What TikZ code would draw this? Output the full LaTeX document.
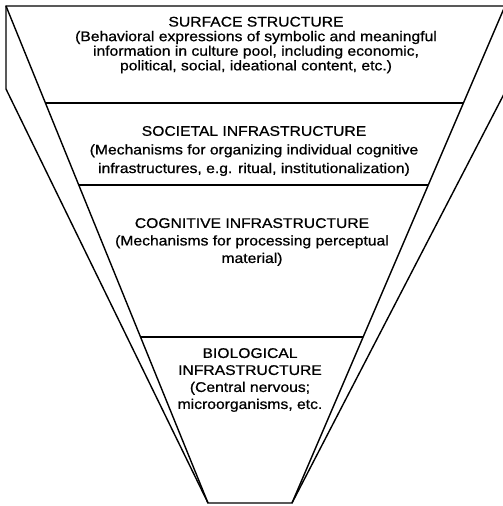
\documentclass[tikz,border=0pt]{standalone}
\usepackage{fontspec}
\setmainfont{Liberation Sans}[FakeStretch=1.12,FakeBold=0.8]
\usetikzlibrary{calc}

\tikzset{
  edge/.style={line width=1.4pt},
  layer/.style={align=center, inner sep=0pt, font=\fontsize{14}{#1}\selectfont},
  layer/.default=18
}

\begin{document}
\begin{tikzpicture}[x=1pt,y=-1pt]
\useasboundingbox (0,0) rectangle (503,506) ;

\coordinate (ftl) at (6,6) ;
\coordinate (ftr) at (505,6) ;
\coordinate (fbl) at (208,503) ;
\coordinate (fbr) at (292,503) ;
\coordinate (sl) at (6,89) ;
\coordinate (sr) at (504,94) ;

\draw [edge] (sl) -- (ftl) -- (ftr) -- (fbr) -- (fbl) -- cycle ;
\draw [edge] (ftl) -- (fbl) ;
\draw [edge] (sr) -- (fbr) ;

\draw [edge] ($(ftl)!0.195!(fbl)$) -- ($(ftr)!0.195!(fbr)$) ;
\draw [edge] ($(ftl)!0.360!(fbl)$) -- ($(ftr)!0.360!(fbr)$) ;
\draw [edge] ($(ftl)!0.666!(fbl)$) -- ($(ftr)!0.666!(fbr)$) ;

\node [layer=14.6] (surface) at (256,45) {SURFACE STRUCTURE\\(Behavioral expressions of symbolic and meaningful\\information in culture pool, including economic,\\political, social, ideational content, etc.)} ;
\node [layer=18.6] (societal) at (254,151) {SOCIETAL INFRASTRUCTURE\\(Mechanisms for organizing individual cognitive\\infrastructures, e.g. ritual, institutionalization)} ;
\node [layer=17.5] (cognitive) at (252,242) {COGNITIVE INFRASTRUCTURE\\(Mechanisms for processing perceptual\\material)} ;
\node [layer=17] (biological) at (250,380) {BIOLOGICAL\\INFRASTRUCTURE\\(Central nervous;\\microorganisms, etc.} ;

\end{tikzpicture}
\end{document}
